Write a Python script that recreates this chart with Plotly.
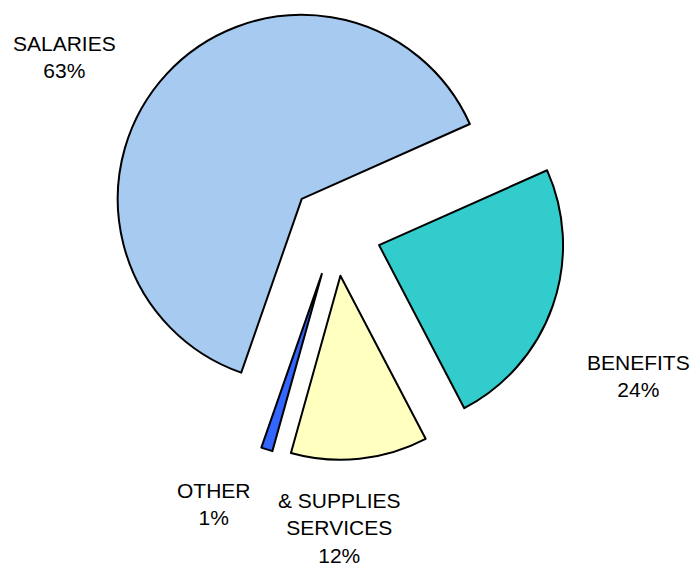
import plotly.graph_objects as go

labels = ["SALARIES", "OTHER", "SUPPLIES & SERVICES", "BENEFITS"]
values = [63, 1, 12, 24]
colors = ["#A6CAF0", "#3366FF", "#FFFFC0", "#33CCCC"]

label_texts = ["SALARIES<br>63%", "OTHER<br>1%", "& SUPPLIES<br>SERVICES<br>12%", "BENEFITS<br>24%"]
label_px = [(64, 57.5), (214, 504), (339, 528), (638, 375.5)]

W, H = 697, 569

fig = go.Figure()
fig.add_trace(go.Pie(
    labels=labels,
    values=values,
    sort=False,
    direction="counterclockwise",
    rotation=-160.8,
    pull=[0.25, 0.25, 0.25, 0.25],
    marker=dict(colors=colors, line=dict(color="#000000", width=2)),
    textinfo="none",
    hoverinfo="label+percent",
    showlegend=False,
    domain=dict(x=[(335.6 - 230) / W, (335.6 + 230) / W], y=[1 - 460 / H, 1]),
))

for txt, (px, py) in zip(label_texts, label_px):
    fig.add_annotation(
        text=txt, x=px / W, y=1 - py / H, xref="paper", yref="paper",
        xanchor="center", yanchor="middle", showarrow=False,
        font=dict(family="Liberation Sans, Arial, sans-serif", size=21, color="#000000"),
    )

fig.update_layout(
    width=W, height=H,
    margin=dict(l=0, r=0, t=0, b=0),
    paper_bgcolor="white", plot_bgcolor="white",
)

fig.write_html("out.html")
